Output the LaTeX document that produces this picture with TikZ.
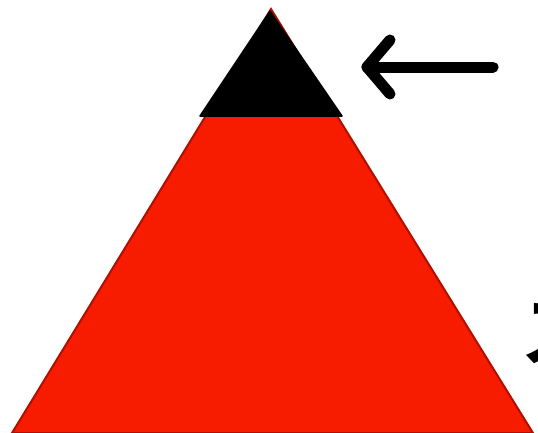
\documentclass[tikz,border=0pt]{standalone}
\usepackage{fontspec}
\newfontfamily\cjk{Noto Sans CJK JP}[BoldFont={* Bold}]
\definecolor{pyred}{RGB}{247,27,0}
\definecolor{pyedge}{RGB}{176,16,0}
\begin{document}
\begin{tikzpicture}[x=1pt,y=-1pt,
  redlayer/.style={fill=pyred,draw=pyedge,line width=2pt,line join=miter},
  blacklayer/.style={fill=black,draw=black,line width=1.5pt,line join=round},
  pointer/.style={line width=11pt,line cap=round,line join=round}]
\useasboundingbox (0,0) rectangle (538,432);
\coordinate (apex) at (271,9);
\coordinate (bl) at (12,433);
\coordinate (br) at (533,433);
\filldraw[redlayer] (apex) -- (br) -- (bl) -- cycle;
\filldraw[blacklayer] (270,11) -- (342,116) -- (200,116) -- cycle;
\coordinate (tip) at (367,67);
\coordinate (tail) at (493,67);
\draw[pointer] (390,40) -- (tip) -- (390,94);
\draw[pointer] (tip) -- (tail);
\node[anchor=north west,inner sep=0pt,font=\cjk\bfseries\fontsize{78}{78}\selectfont] (label) at (520,303) {ス};
\end{tikzpicture}
\end{document}
